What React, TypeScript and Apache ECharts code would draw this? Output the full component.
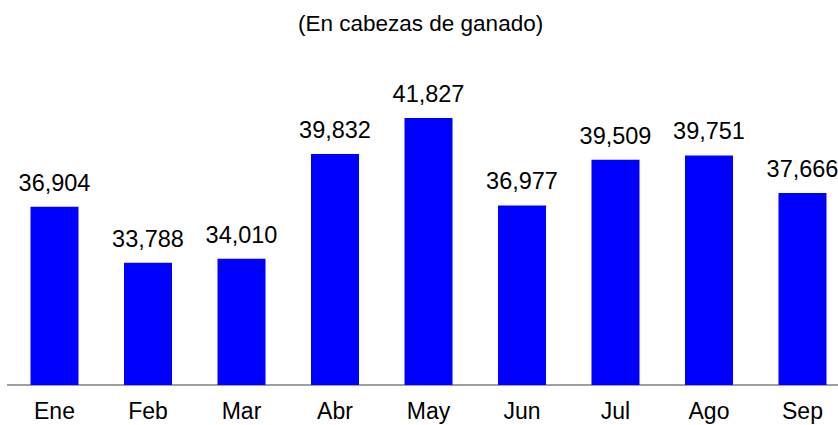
import React, { useEffect, useRef } from "react";
import * as echarts from "echarts";

const titleText = "(En cabezas de ganado)";
const categories = ["Ene", "Feb", "Mar", "Abr", "May", "Jun", "Jul", "Ago", "Sep"];
const values = [36904, 33788, 34010, 39832, 41827, 36977, 39509, 39751, 37666];

const FONT = "'Liberation Sans', Arial, sans-serif";

export default function App() {
  const ref = useRef<HTMLDivElement>(null);
  useEffect(() => {
    if (!ref.current) return;
    const chart = echarts.init(ref.current, undefined, { renderer: "svg" });
    chart.setOption({
      animation: false,
      backgroundColor: "#ffffff",
      title: {
        text: titleText,
        left: 298,
        top: 12,
        padding: 0,
        textStyle: { fontFamily: FONT, fontSize: 22.5, fontWeight: "normal", color: "#000000" },
      },
      grid: {
        left: 7.75,
        width: 841.5,
        top: 61,
        height: 324,
        containLabel: false,
        outerBoundsMode: "none",
      },
      xAxis: {
        type: "category",
        data: categories,
        boundaryGap: true,
        axisLine: { show: true, onZero: false, lineStyle: { color: "#a0a0a0", width: 2 } },
        axisTick: { show: false },
        axisLabel: { margin: 14, fontFamily: FONT, fontSize: 23, color: "#000000", interval: 0 },
        splitLine: { show: false },
      },
      yAxis: {
        type: "value",
        min: 27000,
        max: 45000,
        show: false,
        splitLine: { show: false },
      },
      series: [
        {
          type: "bar",
          data: values,
          barWidth: 48,
          itemStyle: { color: "#0000ff" },
          label: {
            show: true,
            position: "top",
            distance: 12,
            fontFamily: FONT,
            fontSize: 23.5,
            color: "#000000",
            formatter: (p: any) => Number(p.value).toLocaleString("en-US"),
          },
        },
      ],
    });
    return () => chart.dispose();
  }, []);
  return (
    <div
      style={{
        position: "absolute",
        left: 0,
        top: 0,
        width: 838,
        height: 425,
        overflow: "hidden",
        background: "#ffffff",
      }}
    >
      <div ref={ref} style={{ width: 852, height: 425 }} />
    </div>
  );
}
